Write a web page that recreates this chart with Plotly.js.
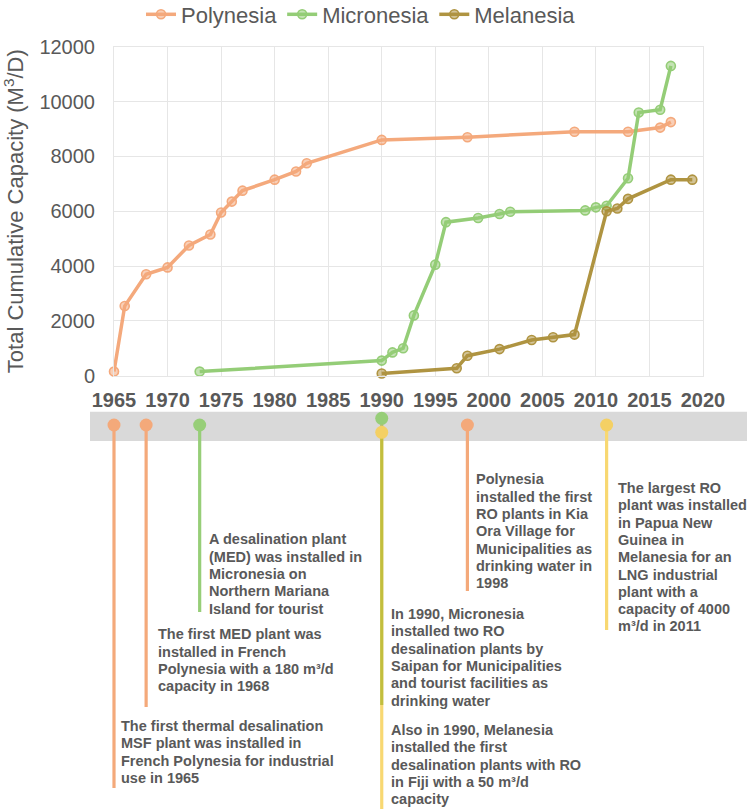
<!DOCTYPE html>
<html><head><meta charset="utf-8">
<script src="https://cdn.plot.ly/plotly-3.0.1.min.js"></script>
<style>html,body{margin:0;padding:0;background:#fff}#chart{width:748px;height:809px}</style>
</head><body><div id="chart"></div>
<script>
// ---- chart data ----
const seriesNames = ['Polynesia', 'Micronesia', 'Melanesia'];
const polyYears = [1965,1966,1968,1970,1972,1974,1975,1976,1977,1980,1982,1983,1990,1998,2008,2013,2016,2017];
const polyValues = [150,2540,3700,3950,4750,5150,5950,6350,6750,7150,7450,7750,8600,8700,8900,8900,9050,9250];
const microYears = [1973,1990,1991,1992,1993,1995,1996,1999,2001,2002,2009,2010,2011,2013,2014,2016,2017];
const microValues = [150,550,850,1000,2200,4050,5600,5750,5900,5980,6030,6140,6200,7200,9600,9700,11300];
const melaYears = [1990,1997,1998,2001,2004,2006,2008,2011,2012,2013,2017,2019];
const melaValues = [80,270,730,970,1300,1400,1500,6000,6100,6450,7150,7150];
const xTickYears = [1965,1970,1975,1980,1985,1990,1995,2000,2005,2010,2015,2020];
const yTickValues = [0,2000,4000,6000,8000,10000,12000];

// ---- timeline events ----
const eventYears = [1965, 1968, 1973, 1990, 1990, 1998, 2011];
const eventRegions = ['Polynesia','Polynesia','Micronesia','Micronesia','Melanesia','Polynesia','Melanesia'];
const eventTexts = [
  ['The first thermal desalination','MSF plant was installed in','French Polynesia for industrial','use in 1965'],
  ['The first MED plant was','installed in French','Polynesia with a 180 m³/d','capacity in 1968'],
  ['A desalination plant','(MED) was installed in','Micronesia on','Northern Mariana','Island for tourist'],
  ['In 1990, Micronesia','installed two RO','desalination plants by','Saipan for Municipalities','and tourist facilities as','drinking water'],
  ['Also in 1990, Melanesia','installed the first','desalination plants with RO','in Fiji with a 50 m³/d','capacity'],
  ['Polynesia','installed the first','RO plants in Kia','Ora Village for','Municipalities as','drinking water in','1998'],
  ['The largest RO','plant was installed','in Papua New','Guinea in','Melanesia for an','LNG industrial','plant with a','capacity of 4000','m³/d in 2011']
];

// ---- styles / layout constants ----
const W = 748, H = 809;
const ML = 60, MR = 45;            // paper margins
const axisLeft = 114, axisRight = 703; // pixel span of 1965..2020
const mainTop = 46.7, mainBottom = 375.7, lowTop = 411.7;
const lineColors = {Polynesia:'#F4A271', Micronesia:'#8CC96C', Melanesia:'#A98B31'};
const markerFill = {Polynesia:'rgba(244,162,113,0.55)', Micronesia:'rgba(140,201,108,0.55)', Melanesia:'rgba(169,139,49,0.55)'};
const dotColors = {Polynesia:'#F4A97A', Micronesia:'#97CE78', Melanesia:'#F4D064'};
const stemColors = ['#F4A97A','#F4A97A','#97CE78','rgba(150,170,20,0.55)','#F8D872','#F4A97A','#F8D872'];
const stemOrder = [0,1,2,4,3,5,6];
const dotY = [425,425,425,418.3,432.3,425,425];
const stemEnd = [788,707,612,705,809,591,630];
const textTop = [726,634.3,539.3,614,730,479.3,488];
const textShift = [5,9.5,7.5,7,7,6.5,9.5];
const lineStep = 17.3;
const gray = '#595959';
const FONT = 'Liberation Sans, Arial, sans-serif';

const plotW = W - ML - MR;
const pctY = px => 1 - px / H;
const pctX = px => (px - ML) / plotW;
const yrPerPx = (2020 - 1965) / (axisRight - axisLeft);
const x2Range = [1965 - (axisLeft - ML) * yrPerPx, 2020];

const seriesX = [polyYears, microYears, melaYears];
const seriesY = [polyValues, microValues, melaValues];

const traces = seriesNames.map((name, i) => ({
  type: 'scatter', mode: 'lines+markers', name: name,
  x: seriesX[i], y: seriesY[i], xaxis: 'x', yaxis: 'y',
  cliponaxis: false, opacity: 0.92,
  line: {color: lineColors[name], width: 3.5},
  marker: {symbol: 'circle', size: 9, color: markerFill[name], line: {color: lineColors[name], width: 1.6}},
  hoverinfo: 'x+y+name'
}));

stemOrder.forEach(i => {
  traces.push({
    type: 'scatter', mode: 'lines', x: [eventYears[i], eventYears[i]], y: [dotY[i], stemEnd[i]],
    xaxis: 'x2', yaxis: 'y2', cliponaxis: false, showlegend: false, hoverinfo: 'skip',
    line: {color: stemColors[i], width: 3.2}
  });
});
traces.push({
  type: 'scatter', mode: 'markers', x: eventYears, y: dotY, xaxis: 'x2', yaxis: 'y2',
  cliponaxis: false, showlegend: false, hoverinfo: 'x',
  marker: {size: 13, color: eventRegions.map(r => dotColors[r]), line: {width: 0}}
});

const annotations = [];
eventTexts.forEach((lines, i) => {
  lines.forEach((t, k) => {
    annotations.push({
      text: t, xref: 'x2', yref: 'y2', x: eventYears[i], y: textTop[i] + k * lineStep,
      xanchor: 'left', yanchor: 'middle', xshift: textShift[i], showarrow: false,
      font: {family: FONT, size: 14.5, color: gray, weight: 'bold'}
    });
  });
});

const layout = {
  width: W, height: H,
  margin: {l: ML, r: MR, t: 0, b: 0, pad: 0, autoexpand: false},
  paper_bgcolor: '#ffffff', plot_bgcolor: 'rgba(0,0,0,0)',
  font: {family: FONT, color: gray},
  showlegend: true,
  legend: {orientation: 'h', x: pctX(361), xanchor: 'center', y: pctY(14.5), yanchor: 'middle',
    font: {size: 22, color: gray}, itemwidth: 30, bgcolor: 'rgba(0,0,0,0)'},
  xaxis: {domain: [pctX(axisLeft), 1], range: [1965, 2020], anchor: 'y', tickvals: xTickYears,
    showgrid: true, gridcolor: '#E6E6E6', gridwidth: 1, zeroline: false,
    showline: true, linecolor: '#E6E6E6', linewidth: 1, mirror: true, ticks: '',
    tickfont: {size: 20, color: gray, weight: 'bold'}, ticklabelstandoff: 6},
  yaxis: {domain: [pctY(mainBottom), pctY(mainTop)], range: [0, 12000], anchor: 'x', tickvals: yTickValues,
    tickformat: 'd',
    showgrid: true, gridcolor: '#E6E6E6', gridwidth: 1, zeroline: false,
    showline: true, linecolor: '#E6E6E6', linewidth: 1, mirror: true, ticks: '',
    tickfont: {size: 20, color: gray}, ticklabelstandoff: 14,
    title: {text: 'Total Cumulative Capacity (M<sup>3</sup>/D)', font: {size: 22, color: gray}, standoff: 14}},
  xaxis2: {domain: [0, 1], range: x2Range, anchor: 'y2', visible: false, showgrid: false, zeroline: false},
  yaxis2: {domain: [0, pctY(lowTop)], range: [H, lowTop], anchor: 'x2', visible: false, showgrid: false, zeroline: false},
  shapes: [{type: 'rect', xref: 'paper', yref: 'paper', x0: pctX(90), x1: pctX(747), y0: pctY(441), y1: pctY(411.7),
    fillcolor: '#D9D9D9', line: {width: 0}, layer: 'below'}],
  annotations: annotations
};

Plotly.newPlot('chart', traces, layout, {displayModeBar: false, responsive: false});
</script>
</body></html>
